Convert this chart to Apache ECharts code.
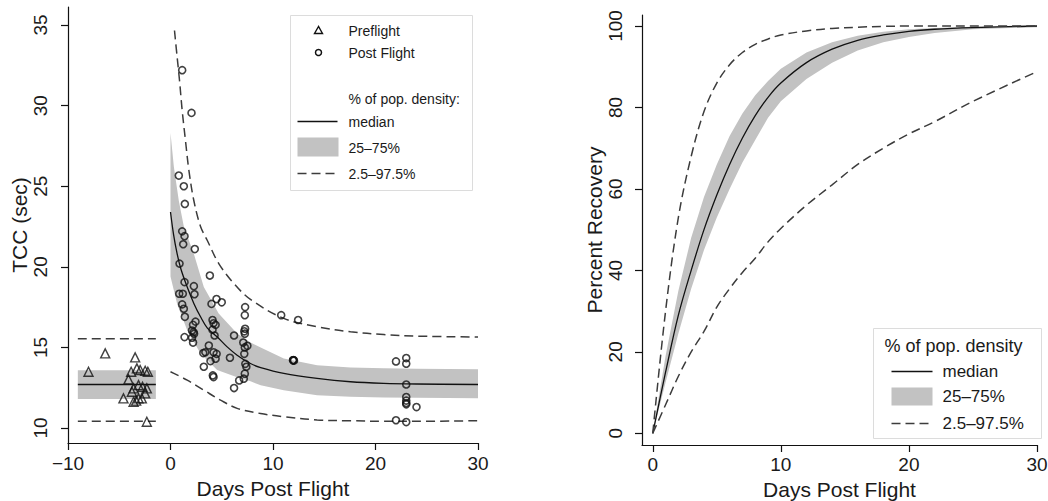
<!DOCTYPE html>
<html>
<head>
<meta charset="utf-8">
<script src="https://cdn.jsdelivr.net/npm/echarts@6/dist/echarts.min.js"></script>
<style>
html,body{margin:0;padding:0;background:#fff;}
#c{width:1048px;height:501px;}
</style>
</head>
<body>
<div id="c"></div>
<script>
// ---------- Left panel data (TCC, sec) ----------
const preX = [-8.0,-6.37,-3.45,-3.28,-3.84,-2.96,-2.47,-2.21,-4.1,-3.6,-3.12,-2.73,-2.31,-3.77,-2.47,-2.8,-4.59,-3.6,-3.12,-3.35,-2.31];
const preY = [13.49,14.63,14.38,13.7,13.49,13.6,13.55,13.49,13.02,12.46,12.66,12.56,12.46,12.25,12.15,11.84,11.84,11.63,11.84,11.7,10.39];

const postX = [1.14,2.05,0.81,1.3,1.4,1.14,1.37,1.24,2.37,0.88,3.84,1.37,2.28,0.85,1.2,2.34,1.14,1.3,1.4,4.0,4.49,5.0,4.1,4.2,4.4,2.44,2.2,2.1,2.3,2.1,2.2,1.37,4.3,3.2,3.4,3.74,4.2,4.5,3.9,4.4,3.25,4.13,4.2,5.8,6.2,6.2,6.7,7.28,7.25,7.28,7.25,7.1,7.25,7.5,7.2,7.3,7.4,7.25,7.15,10.8,12.45,11.95,12.0,12.05,11.97,22.0,23.0,23.0,23.0,23.0,23.0,23.0,23.0,24.0,22.0,23.0,4.1,2.25,7.2];
const postY = [32.2,29.55,25.66,25.0,23.9,22.2,21.9,21.4,21.1,20.2,19.46,19.05,18.8,18.33,18.33,18.3,17.67,17.4,16.9,17.7,18.0,17.8,16.7,16.5,16.4,16.6,16.4,16.05,15.85,15.6,15.3,15.64,15.74,14.65,14.7,15.12,14.7,14.6,14.15,14.3,13.8,13.26,13.16,14.36,15.74,12.48,12.95,17.5,17.0,16.16,15.85,15.3,15.0,15.1,14.6,13.98,13.8,13.37,13.06,17.0,16.7,14.2,14.22,14.18,14.2,14.13,14.34,13.99,12.7,11.92,11.7,11.47,11.55,11.3,10.48,10.37,16.1,15.95,16.0];

// preflight reference levels
const preRangeX = [-9.04,-1.43];
const preMedian = 12.7, preQ25 = 11.8, preQ75 = 13.59, preP025 = 10.42, preP975 = 15.54;

// post-flight model curves
const medX = [0,0.3,0.65,1,1.63,2.3,2.93,3.6,4.55,5.5,6.5,7.8,8.8,11.05,14.3,17.56,20.8,24,30];
const medY = [23.4,22.0,20.8,19.9,18.75,17.7,16.9,16.2,15.66,15.05,14.52,14.0,13.75,13.39,13.08,12.87,12.77,12.73,12.7];
const q75X = [0,0.33,0.81,1.3,2.28,3.25,4.7,6.5,7.8,8.8,11.05,14.3,17.56,20.8,24,30];
const q75Y = [28.3,26.2,24.1,22.5,20.8,18.75,17.1,15.87,15.3,15.0,14.32,13.9,13.76,13.7,13.67,13.64];
const q25X = [0,0.65,1.63,2.93,4.55,6.5,7.8,8.8,11.05,14.3,17.56,20.8,24,30];
const q25Y = [19.4,17.7,16.07,14.63,13.6,13.15,12.9,12.65,12.35,12.04,11.94,11.9,11.87,11.84];
const p975X = [0.39,0.65,0.88,1.14,1.46,1.79,2.28,2.93,3.58,4.71,6.18,7.8,11.05,14.3,17.56,20.8,24.07,30];
const p975Y = [34.66,33.0,31.56,29.7,27.84,26.0,24.1,22.5,21.65,20.2,18.97,17.98,16.8,16.28,15.97,15.8,15.7,15.65];
const p025X = [0,1.63,3.25,4.88,6.5,8.78,11.05,14.3,17.56,20.8,24,30];
const p025Y = [13.49,12.97,12.35,11.73,11.22,10.9,10.7,10.5,10.45,10.42,10.42,10.45];

// ---------- Right panel data (Percent Recovery) ----------
const recX = [0,1,2,3,4,5,6,7,8,9,10,12,14,16,18,20,22,25,30];
const recMed = [0,15,29,40,50,58.5,66,72.5,78,82.5,86,91,94.3,96.5,97.8,98.7,99.2,99.6,100];
const recQ75 = [0,19,35,48,58,66,73,78.5,83,86.5,89.5,93.5,96,97.6,98.6,99.2,99.5,99.8,100];
const recQ25 = [0,12.5,24.5,35.5,45,53,60,66.5,72,77.5,81.5,87,91,94,96,97.3,98.3,99.2,99.7];
const recP975 = [0,30,53,68,79,86,90.5,93.5,95.5,96.8,97.8,98.8,99.4,99.7,99.9,100,100,100,100];
const recP025 = [0,7,14,20,25,31,35.5,39.5,43,47,50.3,56,61,66,70,73.5,76.5,81.5,88.8];

// ---------- tick labels ----------
const leftXTicks = [-10,0,10,20,30];
const leftYTicks = [10,15,20,25,30,35];
const rightXTicks = [0,10,20,30];
const rightYTicks = [0,20,40,60,80,100];

const FONT = 'Liberation Sans, Arial, sans-serif';
const TXT = '#1a1a1a';
const BAND = '#c2c2c2';
const DASH = '#3c3c3c';

function pairs(xs, ys){ return xs.map((x,i)=>[x, ys[i]]); }
function fmt(v){ return String(v).replace('-', '\u2212'); }

function axisX(idx, min, max, ticks, name, nameGap, margin){
  return {
    type:'value', gridIndex:idx, min:min, max:max, name:name, nameLocation:'middle', nameGap:nameGap,
    nameTextStyle:{fontFamily:FONT, fontSize:21, color:TXT},
    axisLine:{show:true, onZero:false, lineStyle:{color:'#111', width:1.2}},
    axisTick:{show:true, inside:false, length:7, customValues:ticks, lineStyle:{color:'#111', width:1.2}},
    axisLabel:{show:true, customValues:ticks, margin:margin, fontFamily:FONT, fontSize:19, color:TXT, formatter:fmt},
    splitLine:{show:false}
  };
}
function axisY(idx, min, max, ticks, name, nameGap, margin){
  return {
    type:'value', gridIndex:idx, min:min, max:max, name:name, nameLocation:'middle', nameGap:nameGap,
    nameTextStyle:{fontFamily:FONT, fontSize:21, color:TXT},
    axisLine:{show:true, onZero:false, lineStyle:{color:'#111', width:1.2}},
    axisTick:{show:true, inside:false, length:7, customValues:ticks, lineStyle:{color:'#111', width:1.2}},
    axisLabel:{show:true, customValues:ticks, rotate:90, margin:margin, fontFamily:FONT, fontSize:19, color:TXT, formatter:fmt},
    splitLine:{show:false}
  };
}

function bandSeries(xi, upX, upY, loX, loY){
  return {
    type:'custom', xAxisIndex:xi, yAxisIndex:xi, silent:true, z:1,
    data:[0],
    renderItem:function(params, api){
      const up = upX.map((x,i)=>api.coord([x, upY[i]]));
      const lo = loX.map((x,i)=>api.coord([x, loY[i]])).reverse();
      return {type:'polygon', shape:{points:up.concat(lo)}, style:{fill:BAND, stroke:null}};
    }
  };
}
function lineSeries(xi, data, dashed, color, width){
  return {
    type:'line', xAxisIndex:xi, yAxisIndex:xi, data:data, showSymbol:false, symbol:'none',
    smooth:0.35,
    silent:true, z:3,
    lineStyle:{color:color, width:width, type: dashed ? [9,5] : 'solid'}
  };
}

const chart = echarts.init(document.getElementById('c'), null, {renderer:'svg'});

// Legend graphics
const legendLeft = {
  type:'group', left:290, top:15, children:[
    {type:'rect', shape:{x:0,y:0,width:182,height:175}, style:{fill:'#fff', stroke:'#dcdcdc', lineWidth:1}},
    {type:'polygon', shape:{points:[[28,11],[24,18],[32,18]]}, style:{fill:'none', stroke:'#111', lineWidth:1.4}},
    {type:'text', x:58, y:15, style:{text:'Preflight', fontFamily:FONT, fontSize:14, fill:TXT, verticalAlign:'middle'}},
    {type:'circle', shape:{cx:28, cy:37, r:3}, style:{fill:'none', stroke:'#111', lineWidth:1.5}},
    {type:'text', x:58, y:37, style:{text:'Post Flight', fontFamily:FONT, fontSize:14, fill:TXT, verticalAlign:'middle'}},
    {type:'text', x:58, y:83, style:{text:'% of pop. density:', fontFamily:FONT, fontSize:14, fill:TXT, verticalAlign:'middle'}},
    {type:'line', shape:{x1:7,y1:106,x2:47,y2:106}, style:{stroke:'#111', lineWidth:1.3}},
    {type:'text', x:58, y:106, style:{text:'median', fontFamily:FONT, fontSize:14, fill:TXT, verticalAlign:'middle'}},
    {type:'rect', shape:{x:7,y:122,width:41,height:19}, style:{fill:BAND}},
    {type:'text', x:58, y:132, style:{text:'25\u201375%', fontFamily:FONT, fontSize:14, fill:TXT, verticalAlign:'middle'}},
    {type:'line', shape:{x1:7,y1:158,x2:47,y2:158}, style:{stroke:DASH, lineWidth:1.5, lineDash:[9,5]}},
    {type:'text', x:58, y:158, style:{text:'2.5\u201397.5%', fontFamily:FONT, fontSize:14, fill:TXT, verticalAlign:'middle'}}
  ]
};
const legendRight = {
  type:'group', left:873, top:328, children:[
    {type:'rect', shape:{x:0,y:0,width:168,height:110}, style:{fill:'#fff', stroke:'#dcdcdc', lineWidth:1}},
    {type:'text', x:11, y:17, style:{text:'% of pop. density', fontFamily:FONT, fontSize:18, fill:TXT, verticalAlign:'middle'}},
    {type:'line', shape:{x1:18,y1:43,x2:59,y2:43}, style:{stroke:'#111', lineWidth:1.3}},
    {type:'text', x:69, y:43, style:{text:'median', fontFamily:FONT, fontSize:17, fill:TXT, verticalAlign:'middle'}},
    {type:'rect', shape:{x:18,y:59,width:41,height:18}, style:{fill:BAND}},
    {type:'text', x:69, y:68, style:{text:'25\u201375%', fontFamily:FONT, fontSize:17, fill:TXT, verticalAlign:'middle'}},
    {type:'line', shape:{x1:18,y1:95,x2:59,y2:95}, style:{stroke:DASH, lineWidth:1.5, lineDash:[9,5]}},
    {type:'text', x:69, y:95, style:{text:'2.5\u201397.5%', fontFamily:FONT, fontSize:17, fill:TXT, verticalAlign:'middle'}}
  ]
};

const option = {
  backgroundColor:'#fff',
  animation:false,
  grid:[
    {left:68, top:7, width:410, height:436, containLabel:false, outerBoundsMode:'none'},
    {left:642, top:15, width:395, height:430, containLabel:false, outerBoundsMode:'none'}
  ],
  xAxis:[
    axisX(0, -10, 30, leftXTicks, 'Days Post Flight', 34, 11),
    axisX(1, -0.84, 30, rightXTicks, 'Days Post Flight', 33, 10)
  ],
  yAxis:[
    axisY(0, 9.07, 36.12, leftYTicks, 'TCC (sec)', 33, 18),
    axisY(1, -2.87, 102.7, rightYTicks, 'Percent Recovery', 36, 17)
  ],
  graphic:[legendLeft, legendRight],
  series:[
    // left: preflight band and lines
    bandSeries(0, preRangeX, [preQ75, preQ75], preRangeX, [preQ25, preQ25]),
    lineSeries(0, pairs(preRangeX, [preMedian, preMedian]), false, '#111', 1.3),
    lineSeries(0, pairs(preRangeX, [preP975, preP975]), true, DASH, 1.5),
    lineSeries(0, pairs(preRangeX, [preP025, preP025]), true, DASH, 1.5),
    // left: post-flight model
    bandSeries(0, q75X, q75Y, q25X, q25Y),
    lineSeries(0, pairs(medX, medY), false, '#111', 1.3),
    lineSeries(0, pairs(p975X, p975Y), true, DASH, 1.5),
    lineSeries(0, pairs(p025X, p025Y), true, DASH, 1.5),
    // left: observations
    {type:'scatter', xAxisIndex:0, yAxisIndex:0, z:4, silent:true, symbol:'triangle', symbolSize:9,
      itemStyle:{color:'rgba(0,0,0,0)', borderColor:'#111', borderWidth:1.4}, data:pairs(preX, preY)},
    {type:'scatter', xAxisIndex:0, yAxisIndex:0, z:4, silent:true, symbol:'circle', symbolSize:7,
      itemStyle:{color:'rgba(0,0,0,0)', borderColor:'#111', borderWidth:1.6}, data:pairs(postX, postY)},
    // right panel
    bandSeries(1, recX, recQ75, recX, recQ25),
    lineSeries(1, pairs(recX, recMed), false, '#111', 1.3),
    lineSeries(1, pairs(recX, recP975), true, DASH, 1.5),
    lineSeries(1, pairs(recX, recP025), true, DASH, 1.5)
  ]
};
chart.setOption(option);
</script>
</body>
</html>
